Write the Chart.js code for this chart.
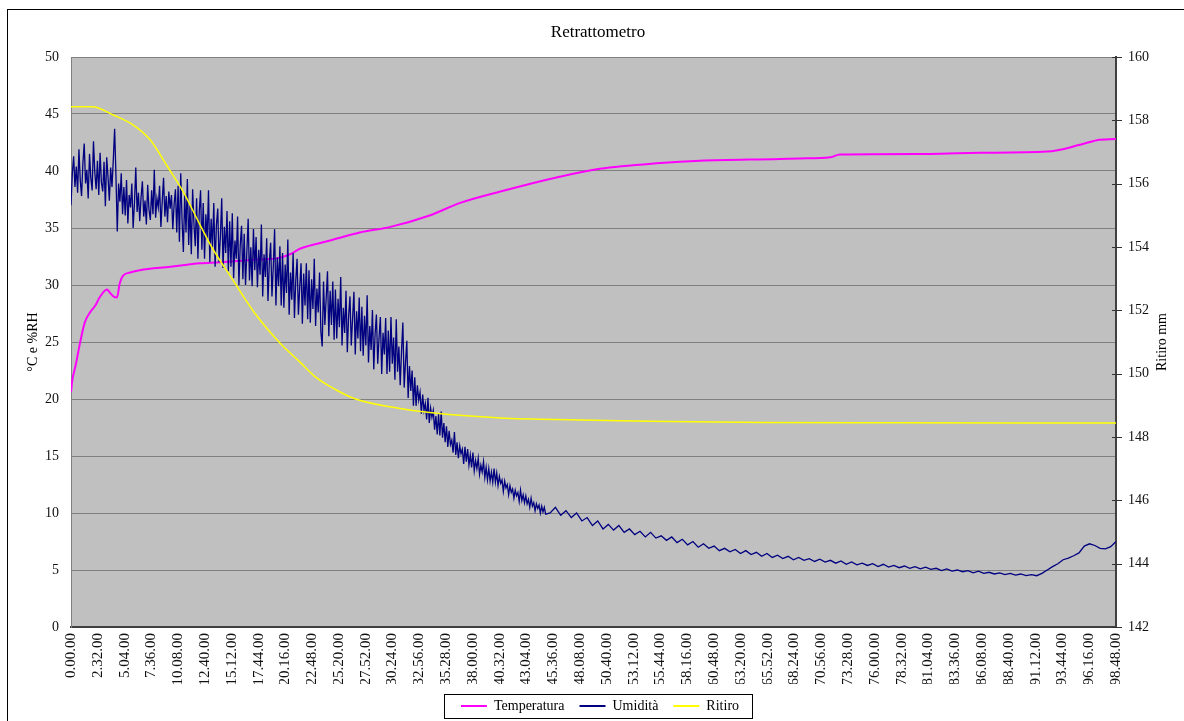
<!DOCTYPE html>
<html><head><meta charset="utf-8">
<script src="https://cdn.jsdelivr.net/npm/chart.js@4.4.1/dist/chart.umd.min.js"></script>
<style>html,body{margin:0;padding:0;background:#fff;}canvas{display:block;}</style>
</head><body>
<canvas id="c" width="1184" height="721"></canvas>
<script>
const chartTitle = 'Retrattometro';
const leftAxisTitle = '°C e %RH';
const rightAxisTitle = 'Ritiro mm';
const seriesNames = ['Temperatura', 'Umidità', 'Ritiro'];
const xMaxMinutes = 5928;
const xTickStepMinutes = 152;

// Temperatura (°C) — time in hours
const tempHours = [0, 0.1, 0.45, 0.85, 1.3, 1.8, 2.3, 2.7, 3.4, 3.7, 4.0, 4.35, 4.6, 4.9, 5.6, 6.5, 9.4, 12.2, 14.1, 16.9, 19.8, 20.7, 21.7, 24.5, 27.3, 30.2, 33.9, 36.8, 40.6, 46.2, 50.0, 55.7, 59.5, 67.0, 68.9, 71.8, 72.7, 81.2, 85.9, 92.3, 95.4, 97.0, 98.8];
const tempValues = [20.6, 21.5, 23.0, 24.9, 26.7, 27.6, 28.2, 28.9, 29.6, 29.3, 29.0, 28.9, 30.1, 30.8, 31.1, 31.3, 31.6, 31.9, 32.0, 32.2, 32.4, 32.7, 33.2, 33.9, 34.6, 35.1, 36.1, 37.2, 38.2, 39.5, 40.2, 40.7, 40.9, 41.05, 41.1, 41.2, 41.45, 41.5, 41.6, 41.7, 42.3, 42.7, 42.8];

// Umidità (%RH) — early part sampled every 7.5 min from 0
const humEarlyStepMin = 7.5;
const humEarly = [
 37.0, 39.8, 41.3, 38.6, 40.4, 38.1, 41.9, 39.2, 37.8, 40.7, 42.4, 38.9, 40.1, 37.6, 41.5, 39.4, 38.3, 42.6, 39.9, 38.4,
 40.9, 37.9, 41.6, 39.0, 38.2, 40.8, 36.9, 41.2, 39.5, 37.4, 40.3, 38.6, 41.0, 43.7, 39.6, 34.7, 38.9, 37.3, 39.8, 36.2,
 38.6, 36.1, 39.2, 35.4, 37.9, 36.8, 38.9, 35.0, 37.2, 40.3, 36.4, 38.1, 35.6, 37.7, 39.1, 36.0, 37.4, 35.3, 38.8, 36.6,
 35.7, 38.3, 36.2, 40.1, 35.9, 37.6, 36.8, 38.7, 35.1, 37.3, 39.4, 36.0, 37.8, 35.5, 38.2, 36.7, 37.9, 34.9, 37.1, 38.4,
 34.6, 38.7, 33.8, 39.8, 35.7, 32.9, 38.0, 34.6, 39.3, 33.5, 37.0, 32.7, 38.4, 35.3, 33.4, 37.6, 32.3, 36.4, 38.3, 33.1,
 37.2, 32.3, 36.2, 34.0, 38.3, 32.0, 35.8, 33.3, 37.2, 31.6, 35.3, 36.7, 32.0, 34.3, 37.6, 31.5, 35.1, 32.8, 36.5, 31.2,
 35.6, 31.6, 36.3, 30.6, 33.9, 32.3, 36.0, 30.0, 33.5, 35.2, 30.5, 34.5, 30.0, 32.9, 35.8, 30.4, 33.3, 29.9, 34.9, 31.3,
 34.2, 29.8, 33.1, 30.9, 35.3, 29.0, 32.7, 30.7, 34.1, 28.6, 32.0, 33.7, 29.0, 31.6, 34.9, 28.2, 32.4, 29.9, 33.4, 28.2,
 32.8, 28.0, 31.8, 29.3, 34.0, 27.4, 31.1, 28.7, 32.8, 27.1, 30.4, 32.3, 27.4, 29.8, 31.9, 26.6, 31.0, 28.2, 31.9, 27.0,
 31.3, 26.7, 30.5, 27.9, 32.3, 26.4, 29.7, 27.6, 31.1, 25.9, 24.6, 30.3, 26.5, 28.8, 31.2, 25.5, 29.5, 26.5, 30.3, 25.2,
 29.6, 25.3, 28.8, 26.3, 30.7, 24.7, 28.0, 25.8, 29.5, 24.1, 27.3, 29.0, 24.7, 27.1, 29.4, 23.9, 27.7, 25.3, 28.9, 24.2,
 28.1, 23.8, 27.3, 24.7, 29.1, 23.2, 26.4, 24.3, 27.8, 22.6, 25.7, 27.4, 23.1, 25.4, 27.2, 22.2, 25.8, 23.9, 27.1, 22.2,
 26.0, 22.4, 27.2, 23.1, 25.4, 21.7, 27.0, 22.4, 24.6, 21.2, 24.2, 26.7, 21.0, 23.2, 25.1, 20.1, 22.9, 20.7, 22.5, 19.4,
 21.9, 19.4, 21.2, 19.9, 20.6, 18.7, 20.4, 19.0, 19.6, 18.2, 20.1, 17.9, 19.2, 18.4, 19.0, 17.3, 18.5, 16.9, 18.7, 16.8,
 18.9, 16.6, 17.9, 16.2, 17.6, 15.8, 17.2, 16.0, 16.4, 15.3, 17.1, 15.1, 16.2, 14.8, 15.9, 15.2, 15.6, 14.3, 15.8, 14.5,
 15.6, 14.2, 15.1, 14.0, 15.3, 13.7, 14.6, 13.9, 14.8, 13.4, 14.2, 13.6, 14.5, 13.1, 14.0, 12.9, 13.9, 12.8, 13.6, 12.7,
 13.9, 12.7, 13.5, 12.4, 13.2, 12.6, 12.9, 11.9, 12.8, 12.2, 12.5, 11.6, 12.4, 11.8, 12.1, 11.3, 12.0, 11.5, 11.8, 11.0,
 12.0, 11.1, 11.6, 10.9, 11.5, 10.8, 11.2, 10.5, 11.3, 10.6, 10.9, 10.2, 10.8, 10.4, 10.7, 10.0, 10.6, 10.1, 10.5, 9.9
];
// Umidità — late part sampled every 30 min from 45h18m
const humLateStartMin = 2718;
const humLateStepMin = 30;
const humLate = [
 10.0, 10.5, 9.8, 10.2, 9.6, 10.0, 9.3, 9.6, 8.9,
 9.3, 8.6, 9.0, 8.5, 8.9, 8.3, 8.6, 8.1, 8.4, 7.9,
 8.3, 7.8, 8.0, 7.6, 7.9, 7.4, 7.7, 7.2, 7.5, 7.0,
 7.3, 6.9, 7.1, 6.7, 6.9, 6.6, 6.8, 6.45, 6.7, 6.35,
 6.55, 6.2, 6.45, 6.1, 6.3, 6.0, 6.2, 5.9, 6.1, 5.85,
 6.0, 5.75, 5.95, 5.7, 5.85, 5.6, 5.8, 5.5, 5.7, 5.45,
 5.6, 5.4, 5.55, 5.3, 5.5, 5.25, 5.4, 5.2, 5.35, 5.15,
 5.3, 5.1, 5.25, 5.05, 5.15, 4.95, 5.1, 4.9, 5.0, 4.85,
 4.95, 4.75, 4.9, 4.7, 4.8, 4.65, 4.75, 4.6, 4.7, 4.55,
 4.65, 4.5, 4.6, 4.5, 4.7, 5.0, 5.3, 5.55, 5.9, 6.05,
 6.25, 6.5, 7.1, 7.3, 7.15, 6.9, 6.85, 7.05, 7.5
];

// Ritiro (mm) — time in hours
const ritHours = [0, 2.0, 4.0, 5.9, 7.5, 9.1, 10.6, 12.2, 13.3, 15.3, 17.4, 19.8, 21.7, 23.1, 25.0, 26.9, 31.1, 33.9, 40.6, 48.1, 54.5, 65.4, 78.4, 98.8];
const ritValues = [158.43, 158.43, 158.17, 157.85, 157.38, 156.55, 155.75, 154.7, 154.0, 152.96, 151.9, 150.95, 150.35, 149.9, 149.5, 149.2, 148.9, 148.77, 148.6, 148.54, 148.5, 148.46, 148.45, 148.44];

const tempData = tempHours.map((h, i) => ({x: h * 60, y: tempValues[i]}));
const humData = humEarly.map((v, i) => ({x: i * humEarlyStepMin, y: v}))
  .concat(humLate.map((v, j) => ({x: humLateStartMin + j * humLateStepMin, y: v})));
const ritData = ritHours.map((h, i) => ({x: h * 60, y: ritValues[i]}));

const SERIF = "'Liberation Serif', 'Times New Roman', serif";

function fmtTime(v) {
  const h = Math.floor(v / 60);
  const m = Math.round(v - h * 60);
  return h + '.' + String(m).padStart(2, '0') + '.00';
}

const decor = {
  id: 'decor',
  afterLayout(chart) {
    chart.legend.left += 8;
    chart.legend.right += 8;
    if (chart.titleBlock) { chart.titleBlock.left += 6; chart.titleBlock.right += 6; }
  },
  beforeDraw(chart) {
    const {ctx, chartArea: a} = chart;
    ctx.save();
    ctx.fillStyle = '#ffffff';
    ctx.fillRect(0, 0, chart.width, chart.height);
    ctx.fillStyle = '#c0c0c0';
    ctx.fillRect(a.left, a.top, a.right - a.left, a.bottom - a.top);
    ctx.restore();
  },
  afterDraw(chart) {
    const {ctx, chartArea: a} = chart;
    ctx.save();
    ctx.strokeStyle = '#000';
    ctx.lineWidth = 1;
    ctx.strokeRect(7.5, 9.5, chart.width + 20, chart.height + 20);
    const y2 = chart.scales.y2;
    ctx.strokeStyle = '#333';
    y2.ticks.forEach(t => {
      const py = Math.round(y2.getPixelForValue(t.value)) + 0.5;
      ctx.beginPath();
      ctx.moveTo(a.right - 4, py);
      ctx.lineTo(a.right + 6, py);
      ctx.stroke();
    });
    ctx.fillStyle = '#000';
    ctx.font = '14px ' + SERIF;
    ctx.textAlign = 'center';
    ctx.textBaseline = 'middle';
    const cy = (a.top + a.bottom) / 2;
    ctx.save(); ctx.translate(a.left - 38, cy); ctx.rotate(-Math.PI / 2); ctx.fillText(leftAxisTitle, 0, 0); ctx.restore();
    ctx.save(); ctx.translate(a.right + 46, cy); ctx.rotate(-Math.PI / 2); ctx.fillText(rightAxisTitle, 0, 0); ctx.restore();
    const hb = chart.legend.legendHitBoxes;
    if (hb && hb.length) {
      const first = hb[0], last = hb[hb.length - 1];
      const l = Math.round(first.left - 17) + 0.5;
      const r = Math.round(last.left + last.width + 13) + 0.5;
      const mid = first.top + first.height / 2;
      const t = Math.round(mid - 12) + 0.5;
      ctx.strokeStyle = '#000';
      ctx.strokeRect(l, t, r - l, 24);
    }
    ctx.restore();
  }
};

new Chart(document.getElementById('c'), {
  type: 'line',
  data: {
    datasets: [
      {label: seriesNames[0], data: tempData, borderColor: '#ff00ff', backgroundColor: '#ff00ff', borderWidth: 2, pointRadius: 0, yAxisID: 'y', order: 2, cubicInterpolationMode: 'monotone'},
      {label: seriesNames[1], data: humData, borderColor: '#000080', backgroundColor: '#000080', borderWidth: 1.3, pointRadius: 0, yAxisID: 'y', order: 1},
      {label: seriesNames[2], data: ritData, borderColor: '#ffff00', backgroundColor: '#ffff00', borderWidth: 1.5, pointRadius: 0, yAxisID: 'y2', order: 0, cubicInterpolationMode: 'monotone'}
    ]
  },
  options: {
    responsive: false,
    animation: false,
    devicePixelRatio: 1,
    layout: {padding: {left: 8, right: 8, top: 10, bottom: -2}},
    plugins: {
      title: {display: true, text: chartTitle, color: '#000', font: {family: SERIF, size: 17, weight: 'normal', lineHeight: 1.2}, padding: {top: 12, bottom: 14.6}},
      legend: {
        position: 'bottom',
        labels: {
          font: {family: SERIF, size: 14}, color: '#000', boxWidth: 26, boxHeight: 2, padding: 15,
          sort: (a, b) => a.datasetIndex - b.datasetIndex,
          generateLabels(chart) {
            const items = Chart.defaults.plugins.legend.labels.generateLabels(chart);
            items.forEach(it => {
              const ds = chart.data.datasets[it.datasetIndex];
              it.fillStyle = ds.borderColor; it.strokeStyle = ds.borderColor; it.lineWidth = 0;
            });
            return items;
          }
        }
      },
      tooltip: {enabled: false}
    },
    scales: {
      x: {
        type: 'linear', min: 0, max: xMaxMinutes,
        grid: {display: false, drawTicks: false},
        border: {display: true, color: '#404040', width: 2},
        ticks: {stepSize: xTickStepMinutes, autoSkip: false, minRotation: 90, maxRotation: 90, padding: 6, color: '#111', font: {family: SERIF, size: 15}, callback: (v) => fmtTime(v)},
        afterFit(s) { s.height = 57; }
      },
      y: {
        position: 'left', min: 0, max: 50,
        ticks: {stepSize: 5, padding: 12, color: '#111', font: {family: SERIF, size: 14}},
        grid: {color: '#808080', lineWidth: 1, drawTicks: false},
        border: {display: true, color: '#808080', width: 1},
        afterFit(s) { s.width = 63; }
      },
      y2: {
        position: 'right', min: 142, max: 160,
        ticks: {stepSize: 2, padding: 12, color: '#111', font: {family: SERIF, size: 14}},
        grid: {drawOnChartArea: false, drawTicks: false},
        border: {display: true, color: '#404040', width: 2},
        afterFit(s) { s.width = 60; }
      }
    }
  },
  plugins: [decor]
});
</script>
</body></html>
